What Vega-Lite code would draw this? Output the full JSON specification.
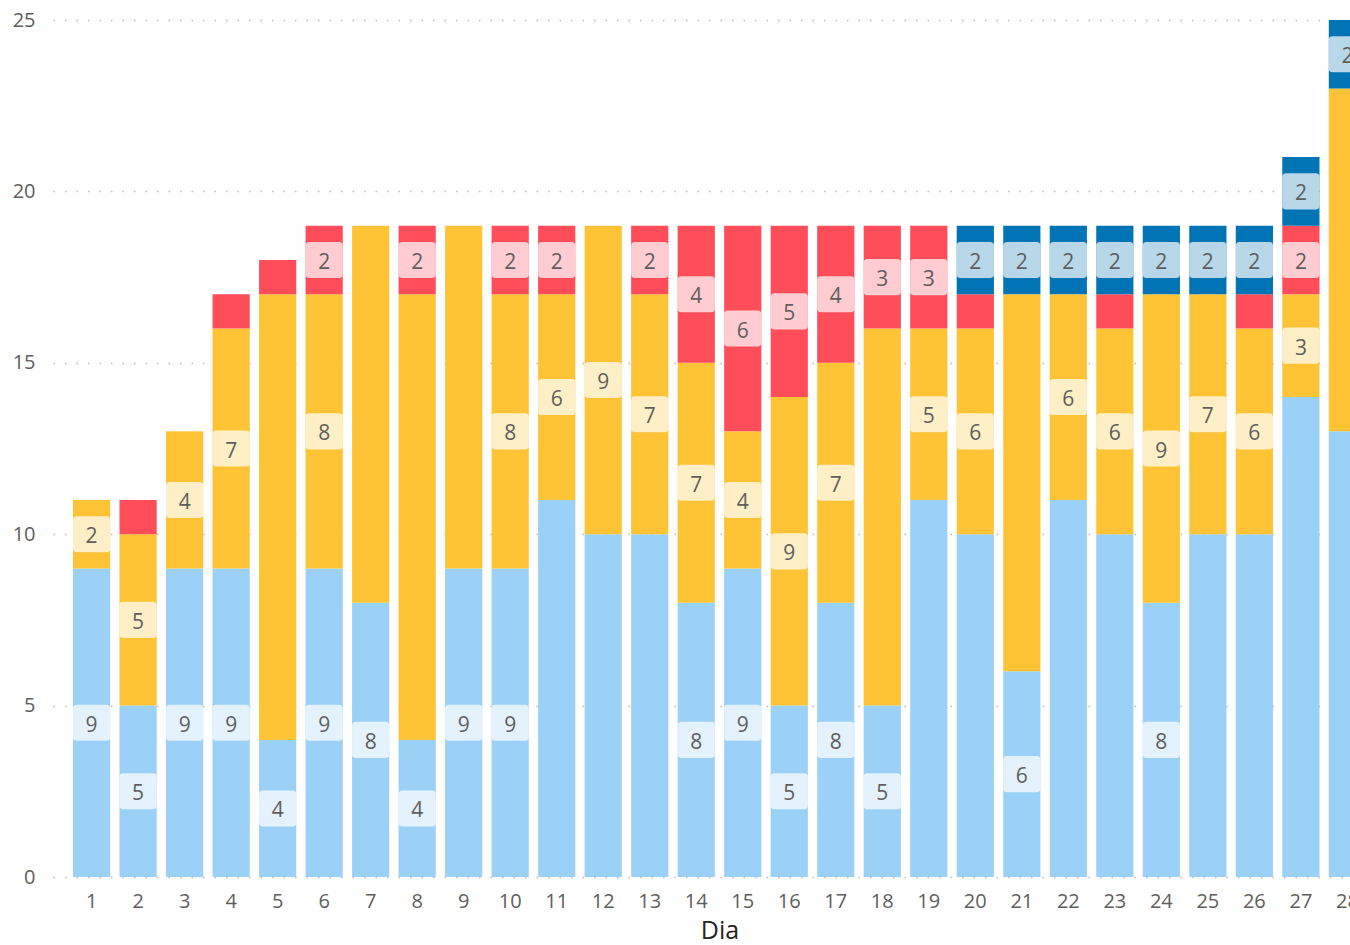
{
  "$schema": "https://vega.github.io/schema/vega-lite/v6.json",
  "width": 1297,
  "height": 857,
  "autosize": {"type": "none"},
  "padding": {"left": 53, "top": 20, "right": 0, "bottom": 68},
  "background": "white",
  "config": {"font": "Open Sans", "view": {"stroke": null}},
  "data": {"values": [
    {"dia": 1, "cat": "A", "v": 9}, {"dia": 1, "cat": "B", "v": 2},
    {"dia": 2, "cat": "A", "v": 5}, {"dia": 2, "cat": "B", "v": 5}, {"dia": 2, "cat": "C", "v": 1},
    {"dia": 3, "cat": "A", "v": 9}, {"dia": 3, "cat": "B", "v": 4},
    {"dia": 4, "cat": "A", "v": 9}, {"dia": 4, "cat": "B", "v": 7}, {"dia": 4, "cat": "C", "v": 1},
    {"dia": 5, "cat": "A", "v": 4}, {"dia": 5, "cat": "B", "v": 13}, {"dia": 5, "cat": "C", "v": 1},
    {"dia": 6, "cat": "A", "v": 9}, {"dia": 6, "cat": "B", "v": 8}, {"dia": 6, "cat": "C", "v": 2},
    {"dia": 7, "cat": "A", "v": 8}, {"dia": 7, "cat": "B", "v": 11},
    {"dia": 8, "cat": "A", "v": 4}, {"dia": 8, "cat": "B", "v": 13}, {"dia": 8, "cat": "C", "v": 2},
    {"dia": 9, "cat": "A", "v": 9}, {"dia": 9, "cat": "B", "v": 10},
    {"dia": 10, "cat": "A", "v": 9}, {"dia": 10, "cat": "B", "v": 8}, {"dia": 10, "cat": "C", "v": 2},
    {"dia": 11, "cat": "A", "v": 11}, {"dia": 11, "cat": "B", "v": 6}, {"dia": 11, "cat": "C", "v": 2},
    {"dia": 12, "cat": "A", "v": 10}, {"dia": 12, "cat": "B", "v": 9},
    {"dia": 13, "cat": "A", "v": 10}, {"dia": 13, "cat": "B", "v": 7}, {"dia": 13, "cat": "C", "v": 2},
    {"dia": 14, "cat": "A", "v": 8}, {"dia": 14, "cat": "B", "v": 7}, {"dia": 14, "cat": "C", "v": 4},
    {"dia": 15, "cat": "A", "v": 9}, {"dia": 15, "cat": "B", "v": 4}, {"dia": 15, "cat": "C", "v": 6},
    {"dia": 16, "cat": "A", "v": 5}, {"dia": 16, "cat": "B", "v": 9}, {"dia": 16, "cat": "C", "v": 5},
    {"dia": 17, "cat": "A", "v": 8}, {"dia": 17, "cat": "B", "v": 7}, {"dia": 17, "cat": "C", "v": 4},
    {"dia": 18, "cat": "A", "v": 5}, {"dia": 18, "cat": "B", "v": 11}, {"dia": 18, "cat": "C", "v": 3},
    {"dia": 19, "cat": "A", "v": 11}, {"dia": 19, "cat": "B", "v": 5}, {"dia": 19, "cat": "C", "v": 3},
    {"dia": 20, "cat": "A", "v": 10}, {"dia": 20, "cat": "B", "v": 6}, {"dia": 20, "cat": "C", "v": 1}, {"dia": 20, "cat": "D", "v": 2},
    {"dia": 21, "cat": "A", "v": 6}, {"dia": 21, "cat": "B", "v": 11}, {"dia": 21, "cat": "D", "v": 2},
    {"dia": 22, "cat": "A", "v": 11}, {"dia": 22, "cat": "B", "v": 6}, {"dia": 22, "cat": "D", "v": 2},
    {"dia": 23, "cat": "A", "v": 10}, {"dia": 23, "cat": "B", "v": 6}, {"dia": 23, "cat": "C", "v": 1}, {"dia": 23, "cat": "D", "v": 2},
    {"dia": 24, "cat": "A", "v": 8}, {"dia": 24, "cat": "B", "v": 9}, {"dia": 24, "cat": "D", "v": 2},
    {"dia": 25, "cat": "A", "v": 10}, {"dia": 25, "cat": "B", "v": 7}, {"dia": 25, "cat": "D", "v": 2},
    {"dia": 26, "cat": "A", "v": 10}, {"dia": 26, "cat": "B", "v": 6}, {"dia": 26, "cat": "C", "v": 1}, {"dia": 26, "cat": "D", "v": 2},
    {"dia": 27, "cat": "A", "v": 14}, {"dia": 27, "cat": "B", "v": 3}, {"dia": 27, "cat": "C", "v": 2}, {"dia": 27, "cat": "D", "v": 2},
    {"dia": 28, "cat": "A", "v": 13}, {"dia": 28, "cat": "B", "v": 10}, {"dia": 28, "cat": "D", "v": 2}
  ]},
  "transform": [
    {"stack": "v", "groupby": ["dia"], "sort": [{"field": "cat", "order": "ascending"}], "as": ["y0", "y1"]},
    {"calculate": "(datum.y0 + datum.y1) / 2", "as": "ym"}
  ],
  "encoding": {
    "x": {
      "field": "dia",
      "type": "ordinal",
      "scale": {"range": [0, 1333], "paddingInner": 0.2, "paddingOuter": 0.43},
      "axis": {
        "labelAngle": 0,
        "labelFontSize": 20,
        "labelColor": "#605E5C",
        "labelPadding": 14,
        "ticks": false,
        "domain": false,
        "title": "Dia",
        "titleFontSize": 25,
        "titleFontWeight": "normal",
        "titleColor": "#252423",
        "titlePadding": 7
      }
    }
  },
  "layer": [
    {
      "mark": {"type": "bar"},
      "encoding": {
        "y": {
          "field": "y0",
          "type": "quantitative",
          "scale": {"domain": [0, 25], "nice": false},
          "axis": {
            "values": [0, 5, 10, 15, 20, 25],
            "title": null,
            "labelFontSize": 20,
            "labelColor": "#605E5C",
            "labelPadding": 18,
            "ticks": false,
            "domain": false,
            "grid": true,
            "gridColor": "#BDBBB9",
            "gridDash": [1.5, 10],
            "gridWidth": 1.5
          }
        },
        "y2": {"field": "y1"},
        "color": {
          "field": "cat",
          "type": "nominal",
          "scale": {"domain": ["A", "B", "C", "D"], "range": ["#9CD1F7", "#FFC436", "#FF4D5A", "#0074B4"]},
          "legend": null
        }
      }
    },
    {
      "transform": [{"filter": "datum.v >= 2 && datum.v <= 9"}],
      "mark": {
        "type": "point",
        "shape": "M-0.8,-0.97 H0.8 Q1,-0.97 1,-0.77 V0.77 Q1,0.97 0.8,0.97 H-0.8 Q-1,0.97 -1,0.77 V-0.77 Q-1,-0.97 -0.8,-0.97 Z",
        "size": 1384,
        "filled": true,
        "fill": "white",
        "opacity": 0.72,
        "strokeWidth": 0
      },
      "encoding": {"y": {"field": "ym", "type": "quantitative"}}
    },
    {
      "transform": [{"filter": "datum.v >= 2 && datum.v <= 9"}],
      "mark": {"type": "text", "fontSize": 21, "color": "#605E5C", "dy": 3},
      "encoding": {
        "y": {"field": "ym", "type": "quantitative"},
        "text": {"field": "v", "type": "quantitative"}
      }
    }
  ]
}
